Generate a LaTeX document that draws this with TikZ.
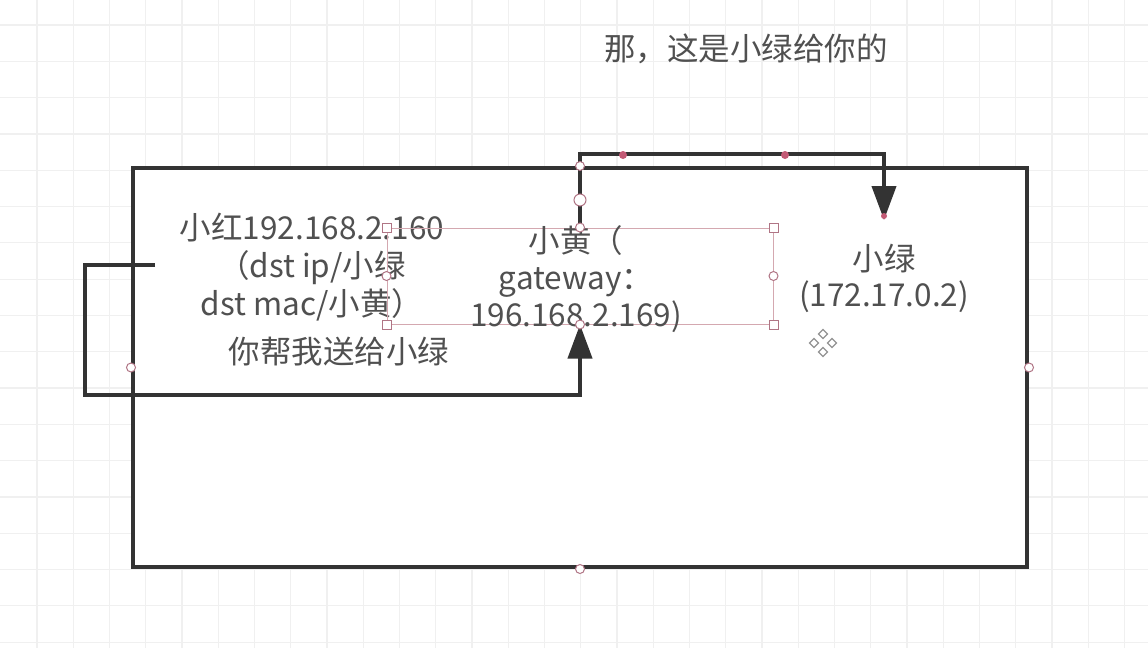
\documentclass[tikz,border=0pt]{standalone}
\usepackage{fontspec}
\setmainfont{Noto Sans CJK SC}
\usetikzlibrary{arrows.meta}
\definecolor{ink}{HTML}{333333}
\definecolor{txt}{HTML}{505050}
\definecolor{gridc}{HTML}{F0F0F0}
\definecolor{hnd}{HTML}{B07585}
\definecolor{reddot}{HTML}{C25A75}
\definecolor{selc}{HTML}{D4A8B0}
\begin{document}
\begin{tikzpicture}[x=1pt,y=-1pt,
  conn/.style={draw=ink,line width=4pt,-{Triangle[length=34pt,width=24pt]}},
  lbl/.style={text=txt,font=\fontsize{31.5}{38}\selectfont,align=center,inner sep=0pt},
  hcirc/.style={circle,draw=hnd,fill=white,line width=1pt,inner sep=0pt,minimum size=9pt},
  hsq/.style={rectangle,draw=hnd,fill=white,line width=1pt,inner sep=0pt,minimum size=9pt},
  rdot/.style={circle,fill=reddot,inner sep=0pt,minimum size=8pt},
  cursor/.style={draw=gray!85,line width=1.3pt}]
\useasboundingbox (0,0) rectangle (1148,648);
\fill[white] (0,0) rectangle (1148,648);
\foreach \i in {0,...,30} \draw[gridc,line width=1.2pt] ({37+36.25*\i},0) -- ++(0,648);
\foreach \j in {0,...,17} \draw[gridc,line width=1.2pt] (0,{25+36.3*\j}) -- ++(1148,0);
% main frame
\node[draw=ink,fill=white,line width=4pt,minimum width=894pt,minimum height=399pt,inner sep=0pt] (frame) at (580,367.5) {};
% top message
\node[lbl] (msg) at (746,49) {那，这是小绿给你的};
% xiao hong
\node[lbl] (red) at (312,267) {小红192.168.2.160\\（dst ip/小绿\\dst mac/小黄）};
\node[lbl] (ask) at (339,352) {你帮我送给小绿};
% xiao huang selection box and text
\node[draw=selc,line width=1pt,minimum width=386pt,minimum height=96pt,inner sep=0pt] (ybox) at (580,276) {};
\node[lbl,font=\fontsize{31.5}{37}\selectfont] (ytext) at (576,279) {小黄（\\gateway：\\196.168.2.169)};
% xiao lv
\node[lbl,font=\fontsize{31.5}{36}\selectfont] (green) at (884,278) {小绿\\(172.17.0.2)};
% connectors
\coordinate (rstart) at (155,265);
\coordinate (gtip) at (884,220);
\draw[conn] (rstart) -- ++(-70,0) -- ++(0,130) -| (ybox.south);
\draw[conn] (ybox.north) -- ++(0,-74) -| (gtip);
% handles
\node[rdot] (d1) at (623,155) {};
\node[rdot] (d2) at (785,155) {};
\node[rdot,minimum size=6pt] (d3) at (884,216) {};
\foreach \a in {west,east,south,north} \node[hcirc] at (frame.\a) {};
\node[hcirc,minimum size=12pt] (mid) at (580,200) {};
\foreach \a in {north west,north east,south west,south east} \node[hsq] at (ybox.\a) {};
\foreach \a in {west,east,north,south} \node[hcirc] at (ybox.\a) {};
% move cursor icon
\foreach \dx/\dy in {0/-9,0/9,-9/0,9/0}
  \draw[cursor,shift={({823+\dx},{343+\dy})}] (0,-4.5) -- (4.5,0) -- (0,4.5) -- (-4.5,0) -- cycle;
\end{tikzpicture}
\end{document}
